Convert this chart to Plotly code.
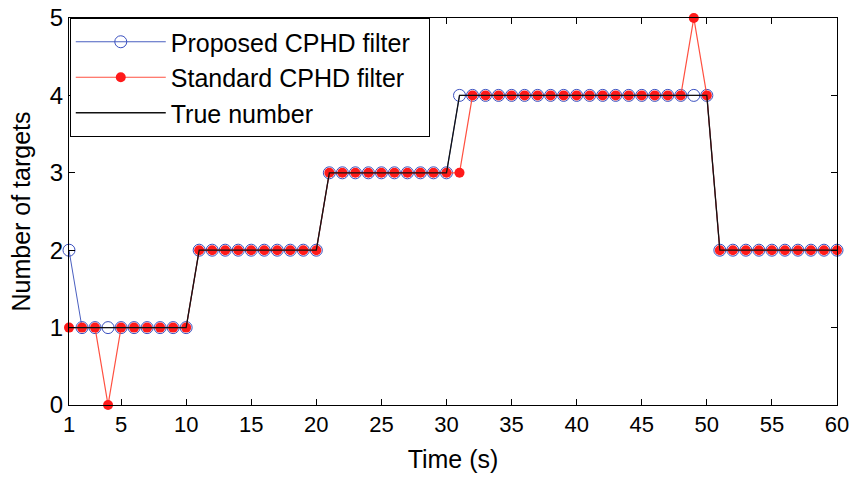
import plotly.graph_objects as go

time_s = list(range(1, 61))
proposed = [2] + [1]*9 + [2]*10 + [3]*10 + [4]*20 + [2]*10
standard = [1, 1, 1, 0, 1, 1, 1, 1, 1, 1] + [2]*10 + [3]*10 + [3] + [4]*17 + [5, 4] + [2]*10
true_num = [1]*10 + [2]*10 + [3]*10 + [4]*20 + [2]*10
x_ticks = [1, 5, 10, 15, 20, 25, 30, 35, 40, 45, 50, 55, 60]
y_ticks = [0, 1, 2, 3, 4, 5]
series_names = ["Proposed CPHD filter", "Standard CPHD filter", "True number"]

fig = go.Figure()
fig.add_trace(go.Scatter(
    x=time_s, y=proposed, mode="lines+markers", name=series_names[0] + "\u00a0\u00a0",
    line=dict(color="#4a5fc0", width=1),
    marker=dict(symbol="circle-open", size=12, color="#3a50c0", line=dict(width=1))))
fig.add_trace(go.Scatter(
    x=time_s, y=standard, mode="lines+markers", name=series_names[1],
    line=dict(color="#ff5040", width=1.2),
    marker=dict(symbol="circle", size=10, color="#ff1a1a")))
fig.add_trace(go.Scatter(
    x=time_s, y=true_num, mode="lines", name=series_names[2],
    line=dict(color="#111111", width=1.3)))

axis_common = dict(
    showline=True, linecolor="black", linewidth=1, mirror="ticks",
    ticks="inside", ticklen=6, tickcolor="black", showgrid=False, zeroline=False,
    automargin=False,
)
fig.update_xaxes(range=[1, 60], tickvals=x_ticks,
                 tickfont=dict(size=22, color="black"),
                 title=dict(text="Time (s)", font=dict(size=25, color="black"), standoff=14),
                 **axis_common)
fig.update_yaxes(range=[0, 5], tickvals=y_ticks,
                 tickfont=dict(size=24, color="black"),
                 title=dict(text="Number of targets", font=dict(size=25, color="black"), standoff=12),
                 **axis_common)

fig.update_layout(
    width=850, height=477,
    margin=dict(l=69, r=13, t=18, b=72),
    plot_bgcolor="white", paper_bgcolor="white",
    font=dict(family="Liberation Sans, Arial, sans-serif", color="black"),
    legend=dict(x=0.001, y=1.0, xanchor="left", yanchor="top",
                bgcolor="white", bordercolor="black", borderwidth=1,
                font=dict(size=25), itemwidth=90),
)
fig.update_traces(cliponaxis=False)
fig.write_html("out.html", config={"displayModeBar": False},
               post_script="document.body.style.margin='0';")
